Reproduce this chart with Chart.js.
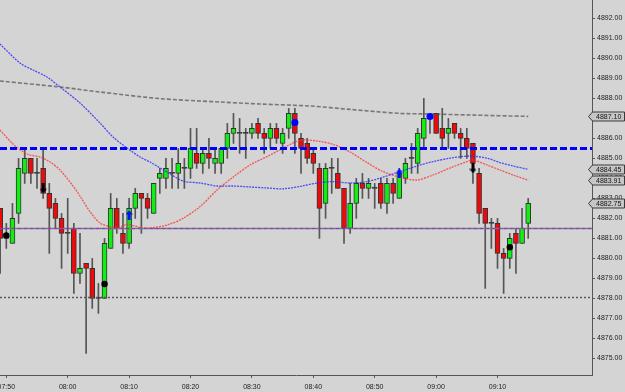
<!DOCTYPE html>
<html><head><meta charset="utf-8">
<script src="https://cdn.jsdelivr.net/npm/chart.js@4.4.1/dist/chart.umd.min.js"></script>
<style>
html,body{margin:0;padding:0;background:#d4d4d4;overflow:hidden;width:625px;height:392px;}
#wrap{position:absolute;left:-40px;top:-20px;width:665px;height:412px;}
</style></head><body>
<div id="wrap"><canvas id="c"></canvas></div>
<script>
// ---- data ----
const times = ["07:49","07:50","07:51","07:52","07:53","07:54","07:55","07:56","07:57","07:58","07:59",
"08:00","08:01","08:02","08:03","08:04","08:05","08:06","08:07","08:08","08:09",
"08:10","08:11","08:12","08:13","08:14","08:15","08:16","08:17","08:18","08:19",
"08:20","08:21","08:22","08:23","08:24","08:25","08:26","08:27","08:28","08:29",
"08:30","08:31","08:32","08:33","08:34","08:35","08:36","08:37","08:38","08:39",
"08:40","08:41","08:42","08:43","08:44","08:45","08:46","08:47","08:48","08:49",
"08:50","08:51","08:52","08:53","08:54","08:55","08:56","08:57","08:58","08:59",
"09:00","09:01","09:02","09:03","09:04","09:05","09:06","09:07","09:08","09:09",
"09:10","09:11","09:12","09:13","09:14","09:15"];
const opens = [4882.5,4881.0,4880.75,4882.25,4884.25,4885.0,4884.25,4884.5,4883.25,4882.75,4882.0,
4881.25,4881.5,4879.25,4879.75,4879.5,4878.0,4878.0,4880.5,4882.5,4881.25,
4880.75,4882.5,4883.25,4883.0,4882.25,4884.0,4884.0,4884.25,4884.25,4884.5,
4884.5,4885.25,4884.75,4885.25,4884.75,4884.75,4885.5,4886.25,4886.25,4886.25,
4886.25,4886.75,4886.25,4886.0,4886.5,4885.75,4886.5,4887.25,4886.0,4885.75,
4885.25,4884.5,4882.75,4884.5,4884.25,4883.5,4881.5,4882.75,4883.75,4883.5,
4883.5,4883.75,4882.75,4883.75,4883.0,4884.0,4885.0,4884.75,4886.0,4887.0,
4887.25,4886.5,4886.25,4886.75,4886.25,4886.0,4885.75,4884.25,4882.5,4881.75,
4881.75,4880.25,4880.0,4881.25,4880.75,4881.75];
const highs = [4882.5,4881.75,4882.75,4885.0,4885.5,4885.0,4885.0,4885.5,4883.75,4883.0,4882.25,
4883.0,4881.75,4881.25,4879.75,4880.0,4878.75,4881.0,4883.25,4883.0,4882.25,
4883.0,4883.5,4883.25,4883.25,4883.75,4884.5,4885.0,4885.0,4885.5,4885.0,
4886.5,4886.5,4885.5,4886.0,4885.5,4885.5,4886.75,4887.25,4887.0,4886.5,
4886.75,4887.0,4886.5,4886.75,4886.75,4886.5,4887.5,4887.5,4886.25,4886.0,
4885.5,4884.75,4884.75,4885.0,4885.0,4883.5,4883.75,4884.0,4884.25,4884.0,
4883.75,4884.0,4884.0,4884.0,4884.5,4885.0,4885.75,4886.5,4888.0,4887.25,
4887.25,4887.5,4887.0,4886.75,4886.5,4886.5,4885.75,4884.5,4882.5,4882.0,
4882.0,4880.5,4881.25,4881.5,4882.5,4883.0];
const lows = [4879.25,4880.5,4880.75,4881.75,4883.75,4883.75,4883.5,4883.0,4880.25,4881.5,4879.5,
4880.25,4878.25,4878.75,4875.25,4877.5,4877.25,4878.0,4880.5,4881.25,4880.25,
4880.5,4882.0,4881.25,4882.0,4882.25,4883.25,4883.5,4883.5,4883.5,4883.5,
4884.0,4884.5,4884.25,4884.5,4884.25,4884.25,4885.0,4885.75,4885.25,4885.0,
4886.0,4886.0,4885.25,4885.5,4885.75,4885.25,4886.0,4885.25,4884.25,4884.75,
4884.25,4881.0,4882.0,4883.25,4883.5,4880.75,4881.25,4882.0,4883.0,4883.0,
4882.5,4882.5,4882.25,4882.75,4883.0,4883.75,4884.25,4884.25,4885.5,4886.25,
4886.25,4885.5,4885.5,4886.0,4885.0,4885.0,4883.75,4881.75,4878.5,4880.5,
4879.5,4878.25,4879.5,4879.25,4880.75,4881.0];
const closes = [4881.0,4881.25,4882.0,4884.5,4885.0,4884.25,4884.25,4883.25,4882.5,4882.0,4881.25,
4881.25,4879.25,4879.5,4879.5,4878.0,4878.0,4880.75,4882.5,4881.5,4880.75,
4882.5,4883.25,4883.0,4882.5,4883.75,4884.25,4884.5,4884.25,4884.75,4884.5,
4885.5,4884.75,4885.25,4885.0,4885.0,4885.5,4886.25,4886.5,4886.25,4886.25,
4886.5,4886.25,4886.0,4886.5,4886.0,4886.25,4887.25,4886.25,4885.5,4885.0,
4884.75,4882.5,4884.5,4884.5,4883.5,4881.5,4882.75,4883.75,4883.5,4883.75,
4883.5,4882.75,4883.75,4883.25,4884.25,4884.75,4885.0,4886.25,4887.0,4887.0,
4886.25,4886.0,4886.5,4886.25,4886.0,4885.5,4884.75,4882.25,4881.75,4881.75,
4880.25,4880.0,4881.0,4880.75,4881.5,4882.75];

// moving averages (minutes after 07:50, value)
const maBlueT = [-1.03,2.23,4.35,6.63,8.75,12.0,15.26,17.38,19.66,21.78,23.4,26.17,28.78,31.55,34.32,36.92,39.69,42.46,45.06,47.83,50.6,53.21,55.98,58.75,61.35,64.12,66.89,69.5,72.26,75.52,78.29,80.41,82.52,85];
const maBlueV = [4890.72,4889.77,4889.42,4889.07,4888.57,4887.77,4886.77,4886.07,4885.52,4885.07,4884.82,4884.32,4883.87,4883.77,4883.62,4883.62,4883.57,4883.52,4883.48,4883.6,4883.77,4883.84,4883.77,4883.84,4884.06,4884.34,4884.62,4884.84,4885.01,4885.12,4885.01,4884.79,4884.62,4884.45];
const maRedT = [-1.03,1.09,3.37,5.49,7.12,8.75,10.86,12.0,13.63,15.26,16.89,18.52,19.66,21.78,23.4,26.17,28.78,31.55,34.32,36.92,39.69,42.46,45.06,47.83,50.6,53.21,55.98,58.75,61.35,64.12,66.89,69.5,72.26,75.03,76.0,78.29,80.41,82.52,85];
const maRedV = [4886.42,4885.72,4885.22,4885.07,4884.82,4884.42,4883.62,4883.12,4882.34,4881.77,4881.59,4881.56,4881.7,4881.55,4881.52,4881.67,4882.0,4882.59,4883.42,4884.06,4884.67,4885.09,4885.51,4885.9,4885.87,4885.7,4885.32,4884.79,4884.34,4884.06,4883.92,4884.17,4884.52,4884.84,4884.92,4884.67,4884.42,4884.17,4883.91];
const maGrayT = [-1.03,8.75,15.26,25.03,34.8,41.32,49.46,55.98,64.12,69.01,75.52,85];
const maGrayV = [4888.87,4888.57,4888.32,4887.99,4887.82,4887.72,4887.62,4887.45,4887.25,4887.22,4887.17,4887.1];

// horizontal levels
const levelBlue = 4885.5, levelPurple = 4881.5, levelGray = 4878.05;
// right-side price tags
const priceTags = [4887.10, 4884.45, 4883.91, 4882.75];
// signal markers
const blackDotTimes = ["07:50","08:06","09:12"], blackDotValues = [4881.15,4878.72,4880.56];
const blueDotTimes = ["08:37","08:59"], blueDotValues = [4886.8,4887.1];
const upArrowTimes = ["08:10","08:54"], upArrowValues = [4882.17,4884.25];
const downArrowTimes = ["07:56","09:06"], downArrowValues = [4883.5,4884.5];
// ticks
const xTickLabels = ["07:50","08:00","08:10","08:20","08:30","08:40","08:50","09:00","09:10"];
const yTicks = [4875,4876,4877,4878,4879,4880,4881,4882,4883,4884,4885,4886,4887,4888,4889,4890,4891,4892,4893];

// ---- build ----
const T0 = 7*60+50;
const toMin = s => { const p = s.split(':').map(Number); return p[0]*60+p[1]-T0; };
const X_MIN = -1.026, X_MAX = 95.39, Y_MIN = 4874.17, Y_MAX = 4893.42;
const FONT = "'Liberation Sans', Arial, sans-serif";

const cx = times.map(toMin);
const bodyColors = opens.map((o,i)=> closes[i]>o ? '#12ee12' : (closes[i]<o ? '#ee0a0a' : '#333'));
const pts = (T,V) => T.map((t,i)=>({x:t, y:V[i]}));
const pts2 = (T,V) => T.map((t,i)=>({x:toMin(t), y:V[i]}));
const hline = v => [{x:X_MIN,y:v},{x:X_MAX,y:v}];

function arrow(color, up){
  const c = document.createElement('canvas'); c.width=7; c.height=10;
  const g = c.getContext('2d'); g.fillStyle=color;
  if(up){ g.beginPath(); g.moveTo(0,4.5); g.lineTo(3.5,0); g.lineTo(7,4.5); g.closePath(); g.fill(); g.fillRect(2,4,3,6); }
  else { g.beginPath(); g.moveTo(0,5.5); g.lineTo(3.5,10); g.lineTo(7,5.5); g.closePath(); g.fill(); g.fillRect(2,0,3,6); }
  return c;
}

const tagPlugin = {
  id:'tags',
  afterDraw(chart){
    const ctx = chart.ctx, y = chart.scales.y, a = chart.chartArea;
    ctx.save();
    ctx.font = "7px " + FONT;
    ctx.textBaseline = 'middle';
    priceTags.forEach(v=>{
      const py = Math.round(y.getPixelForValue(v)) + 0.5;
      const x0 = a.right - 4, x1 = a.right, x2 = a.right + 32, h = 4.5;
      ctx.beginPath();
      ctx.moveTo(x0+0.5, py); ctx.lineTo(x1+0.5, py-h); ctx.lineTo(x2+0.5, py-h);
      ctx.lineTo(x2+0.5, py+h); ctx.lineTo(x1+0.5, py+h); ctx.closePath();
      ctx.fillStyle = '#c6c6c6'; ctx.fill();
      ctx.strokeStyle = '#3a3a3a'; ctx.lineWidth = 1; ctx.stroke();
      ctx.fillStyle = '#111';
      ctx.fillText(v.toFixed(2), x1 + 4, py + 0.5);
    });
    ctx.restore();
  }
};

new Chart(document.getElementById('c'), {
  type: 'bar',
  data: {
    datasets: [
      { type:'bar', label:'wick', data: cx.map((x,i)=>({x, y:[lows[i], highs[i]]})),
        backgroundColor:'#555', barThickness:1, grouped:false, order:10 },
      { type:'bar', label:'body', data: cx.map((x,i)=>({x, y:[opens[i], closes[i]]})),
        backgroundColor: bodyColors, borderColor:'#333', borderWidth:1, borderSkipped:false,
        barThickness:5, minBarLength:1, grouped:false, order:9 },
      { type:'line', label:'gray MA', data: pts(maGrayT, maGrayV), borderColor:'rgba(80,80,80,0.7)',
        borderWidth:1.6, borderDash:[4,2], pointRadius:0, tension:0.3, order:5 },
      { type:'line', label:'blue MA', data: pts(maBlueT, maBlueV), borderColor:'rgba(40,40,255,0.8)',
        borderWidth:1.3, borderDash:[2,1], pointRadius:0, tension:0.3, order:5 },
      { type:'line', label:'red MA', data: pts(maRedT, maRedV), borderColor:'rgba(255,50,50,0.8)',
        borderWidth:1.3, borderDash:[2,1], pointRadius:0, tension:0.3, order:5 },
      { type:'line', label:'gray level', data: hline(levelGray), borderColor:'#5a5a5a',
        borderWidth:1.5, borderDash:[2,2], pointRadius:0, order:4 },
      { type:'line', label:'purple level gray', data: hline(levelPurple), borderColor:'#777',
        borderWidth:1.5, borderDash:[3,3], borderDashOffset:3, pointRadius:0, order:4 },
      { type:'line', label:'purple level', data: hline(levelPurple), borderColor:'#8a3ac0',
        borderWidth:1.5, borderDash:[3,3], pointRadius:0, order:4 },
      { type:'line', label:'blue level', data: hline(levelBlue), borderColor:'#0000ff',
        borderWidth:3, borderDash:[7,3], pointRadius:0, order:3 },
      { type:'line', label:'black dots', data: pts2(blackDotTimes, blackDotValues), showLine:false,
        pointRadius:3.2, pointBackgroundColor:'#000', pointBorderWidth:0, order:1 },
      { type:'line', label:'blue dots', data: pts2(blueDotTimes, blueDotValues), showLine:false,
        pointRadius:3.5, pointBackgroundColor:'#0000ff', pointBorderWidth:0, order:1 },
      { type:'line', label:'up', data: pts2(upArrowTimes, upArrowValues), showLine:false,
        pointStyle: arrow('#0010ff', true), order:1 },
      { type:'line', label:'down', data: pts2(downArrowTimes, downArrowValues), showLine:false,
        pointStyle: arrow('#000', false), order:1 }
    ]
  },
  options: {
    responsive:true, maintainAspectRatio:false, animation:false,
    layout:{ padding:{ left:40, top:10, right:0, bottom:0 } },
    plugins:{ legend:{display:false}, tooltip:{enabled:false} },
    scales:{
      x:{ type:'linear', min:X_MIN, max:X_MAX, offset:false,
        grid:{ drawOnChartArea:false, drawTicks:true, tickLength:3, tickColor:'#555', offset:false },
        border:{ display:true, color:'#555', width:1 },
        ticks:{ font:{family:FONT, size:7}, color:'#222', padding:5, maxRotation:0, autoSkip:false,
          callback:(v,i)=> xTickLabels[i] },
        afterBuildTicks: s => { s.ticks = xTickLabels.map(l=>({value: toMin(l)})); },
        afterFit: s => { s.height = 17; s.paddingLeft = 0; s.paddingRight = 0; }
      },
      y:{ type:'linear', position:'right', min:Y_MIN, max:Y_MAX,
        grid:{ drawOnChartArea:false, drawTicks:true, tickLength:3, tickColor:'#555' },
        border:{ display:true, color:'#555', width:1 },
        ticks:{ font:{family:FONT, size:7}, color:'#222', padding:2, autoSkip:false,
          callback: v => Number(v).toFixed(2) },
        afterBuildTicks: s => { s.ticks = yTicks.map(v=>({value:v})); },
        afterFit: s => { s.width = 33; s.paddingTop = 0; s.paddingBottom = 0; }
      }
    }
  },
  plugins:[tagPlugin]
});
</script>
</body></html>
